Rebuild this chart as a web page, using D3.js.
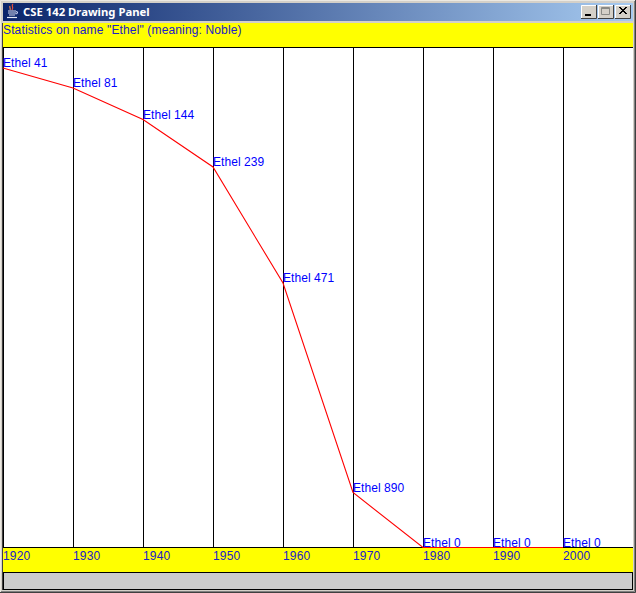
<!DOCTYPE html>
<html>
<head>
<meta charset="utf-8">
<script src="https://d3js.org/d3.v7.min.js"></script>
<style>
html,body{margin:0;padding:0;background:#d4d0c8;overflow:hidden}
svg{display:block}
text{font-family:"Liberation Sans",Arial,sans-serif;font-size:12px;letter-spacing:.14px}
</style>
</head>
<body>
<svg id="c" width="636" height="593"></svg>
<script>
const decades = [1920,1930,1940,1950,1960,1970,1980,1990,2000];
const ranks = [41,81,144,239,471,890,0,0,0];
const personName = "Ethel";
const heading = 'Statistics on name "Ethel" (meaning: Noble)';
const windowTitle = "CSE 142 Drawing Panel";

const svg = d3.select("#c");
const x = d3.scaleLinear().domain([1920,2000]).range([3,563]);
const y = d3.scaleLinear().domain([0,1000]).range([47.5,547.5]);
const rankY = r => y(r === 0 ? 1000 : r);

// window frame
svg.append("rect").attr("width",636).attr("height",593).attr("fill","#d4d0c8");
svg.append("path").attr("d","M0.5 592V0.5H635").attr("stroke","#ece9e2").attr("fill","none");
svg.append("path").attr("d","M635.5 0V592.5H0").attr("stroke","#404040").attr("fill","none");
svg.append("path").attr("d","M634.5 1V591.5H1").attr("stroke","#808080").attr("fill","none");

// title bar
const defs = svg.append("defs");
const g = defs.append("linearGradient").attr("id","tb");
g.append("stop").attr("offset","0").attr("stop-color","#0a246a");
g.append("stop").attr("offset","1").attr("stop-color","#a6caf0");
svg.append("rect").attr("x",3).attr("y",3).attr("width",630).attr("height",18).attr("fill","url(#tb)");
svg.append("text").attr("x",23).attr("y",16).attr("fill","#fff").attr("font-weight","bold")
  .style("font-family","'Noto Sans',sans-serif").style("font-size","11.3px").style("letter-spacing","0").text(windowTitle);

// java icon
const ic = svg.append("g").attr("fill","none").attr("stroke-width",1.2);
ic.append("path").attr("d","M13 4c-2.5 2 1.5 3 -1 6").attr("stroke","#e8503a");
ic.append("path").attr("d","M10 6c-1 1.5 1 2 0 4").attr("stroke","#e8804a");
ic.append("path").attr("d","M8 11h8M8 13h8M9 15h6").attr("stroke","#d8dcf0");
ic.append("path").attr("d","M16 11.5c2 0 2 2.5 -.5 2.5").attr("stroke","#c8d0f0");
ic.append("path").attr("d","M7 17.5h10").attr("stroke","#e8ecf8");

// caption buttons
const buttonXs = [581,598,615];
const glyphs = [
  bx => `M${bx+4} 15h6`,
  bx => `M${bx+3.5} 7.5h8v7h-8zM${bx+3.5} 8.5h8`,
  bx => `M${bx+4} 7l7 7M${bx+11} 7l-7 7M${bx+5} 7l7 7M${bx+12} 7l-7 7`
];
buttonXs.forEach((bx,i)=>{
  svg.append("rect").attr("x",bx).attr("y",5).attr("width",16).attr("height",14).attr("fill","#d4d0c8");
  svg.append("path").attr("d",`M${bx+.5} 18.5V5.5H${bx+15.5}`).attr("stroke","#fff").attr("fill","none");
  svg.append("path").attr("d",`M${bx+15.5} 5V18.5H${bx}`).attr("stroke","#404040").attr("fill","none");
  svg.append("path").attr("d",glyphs[i](bx)).attr("fill","none")
    .attr("stroke",i===1?"#8a8a86":"#000").attr("stroke-width",i===0?2:1);
});

// panel
svg.append("rect").attr("x",3).attr("y",23).attr("width",630).attr("height",550).attr("fill","#fff");
svg.append("rect").attr("x",3).attr("y",23).attr("width",630).attr("height",24).attr("fill","#ffff00");
svg.append("rect").attr("x",3).attr("y",547).attr("width",630).attr("height",25).attr("fill","#ffff00");
svg.append("rect").attr("x",3).attr("y",573).attr("width",630).attr("height",17).attr("fill","#cccccc");
svg.append("path").attr("d","M3 47.5H633M3 547.5H633M3 572.5H633").attr("stroke","#000");
svg.append("rect").attr("x",3.5).attr("y",572.5).attr("width",629).attr("height",17).attr("fill","none").attr("stroke","#000");
svg.append("path").attr("d","M2.5 23V590").attr("stroke","#404040");

// vertical grid
svg.append("g").selectAll("line").data(decades).join("line")
  .attr("x1",d=>x(d)+.5).attr("x2",d=>x(d)+.5)
  .attr("y1",47).attr("y2",547).attr("stroke","#000");

// heading
svg.append("text").attr("x",3).attr("y",34).attr("fill","#2020c8").text(heading);

// data line
const pts = decades.map((d,i)=>[d,ranks[i]]);
svg.append("path").attr("fill","none").attr("stroke","#ff0000").attr("stroke-width",1.1)
  .attr("d",d3.line().x(p=>x(p[0])).y(p=>rankY(p[1]))(pts));

// data labels
svg.append("g").selectAll("text").data(pts).join("text")
  .attr("x",p=>x(p[0])).attr("y",p=>rankY(p[1])-1)
  .attr("fill","#0000ff").style("letter-spacing","0.05px").text(p=>`${personName} ${p[1]}`);

// decade labels
svg.append("g").selectAll("text").data(decades).join("text")
  .attr("x",d=>x(d)).attr("y",560)
  .attr("fill","#2020c8").text(d=>d);
</script>
</body>
</html>
